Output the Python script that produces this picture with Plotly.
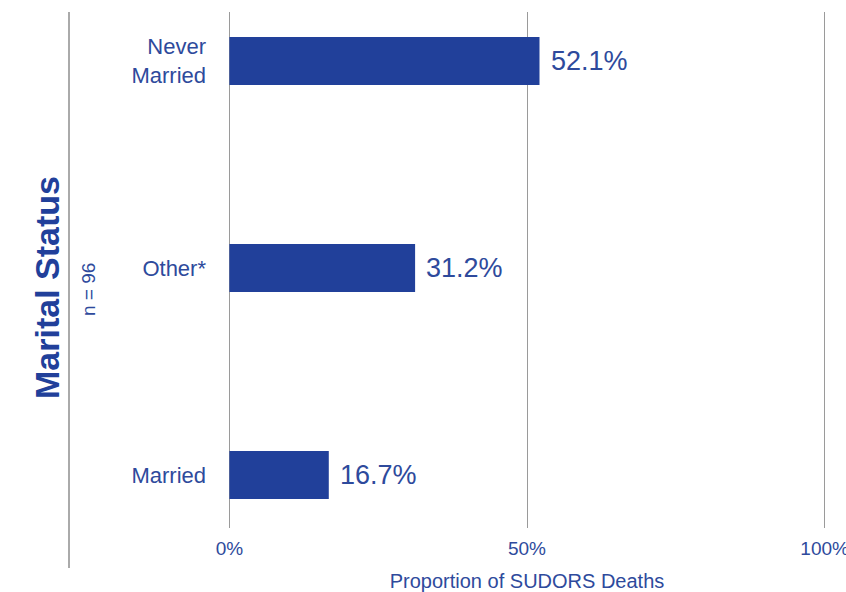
import plotly.graph_objects as go

categories = ["Married", "Other*", "Never<br>Married"]
values = [16.7, 31.2, 52.1]
labels = ["16.7%", "31.2%", "52.1%"]
x_ticks = [0, 50, 100]
x_tick_labels = ["0%", "50%", "100%"]

BLUE = "#21409A"
TXT = "#2E4A9C"
FONT = "Liberation Sans, Arial, sans-serif"

L, R, T, B = 227, 19, 12, 64
PW = 846 - L - R
PH = 592 - T - B

fig = go.Figure(go.Bar(
    x=values, y=categories, orientation="h",
    marker=dict(color=BLUE, line=dict(width=0)),
    width=0.232,
    hoverinfo="skip",
))

for v, c, t in zip(values, categories, labels):
    fig.add_annotation(x=v, y=c, text=t, xanchor="left", yanchor="middle",
                       xshift=9, showarrow=False,
                       font=dict(size=27, color=TXT, family=FONT))

fig.update_layout(
    width=846, height=592,
    margin=dict(l=L, r=R, t=T, b=B, autoexpand=False),
    plot_bgcolor="white", paper_bgcolor="white",
    showlegend=False,
    font=dict(family=FONT, color=TXT),
    xaxis=dict(
        range=[-0.4, 100.4], tickvals=x_ticks, ticktext=x_tick_labels,
        showgrid=True, gridcolor="#9a9a9a", gridwidth=1,
        zeroline=False, showline=False, automargin=False,
        ticklabeloverflow="allow",
        tickfont=dict(size=19, color=TXT), ticklabelstandoff=7,
        title=dict(text="Proportion of SUDORS Deaths", font=dict(size=20, color=TXT), standoff=15),
    ),
    yaxis=dict(
        range=[-0.256, 2.237], showgrid=False, zeroline=False, showline=False,
        automargin=False,
        tickfont=dict(size=22, color=TXT), ticklabelstandoff=20,
        categoryorder="array", categoryarray=categories,
    ),
    shapes=[dict(type="line", xref="paper", yref="paper", x0=(69-L)/PW, x1=(69-L)/PW,
                 y0=1.0, y1=(592-B-568)/PH, line=dict(color="#aaaaaa", width=2))],
)

fig.add_annotation(text="<b>Marital Status</b>", xref="paper", yref="paper",
                   x=(47-L)/PW, y=(592-B-288)/PH, textangle=-90, showarrow=False,
                   font=dict(size=34, color=BLUE, family=FONT), xanchor="center", yanchor="middle")
fig.add_annotation(text="n = 96", xref="paper", yref="paper",
                   x=(88-L)/PW, y=(592-B-290)/PH, textangle=-90, showarrow=False,
                   font=dict(size=19, color=TXT, family=FONT), xanchor="center", yanchor="middle")

fig.write_html("out.html", config={"displayModeBar": False},
               post_script="document.body.style.margin='0';")
